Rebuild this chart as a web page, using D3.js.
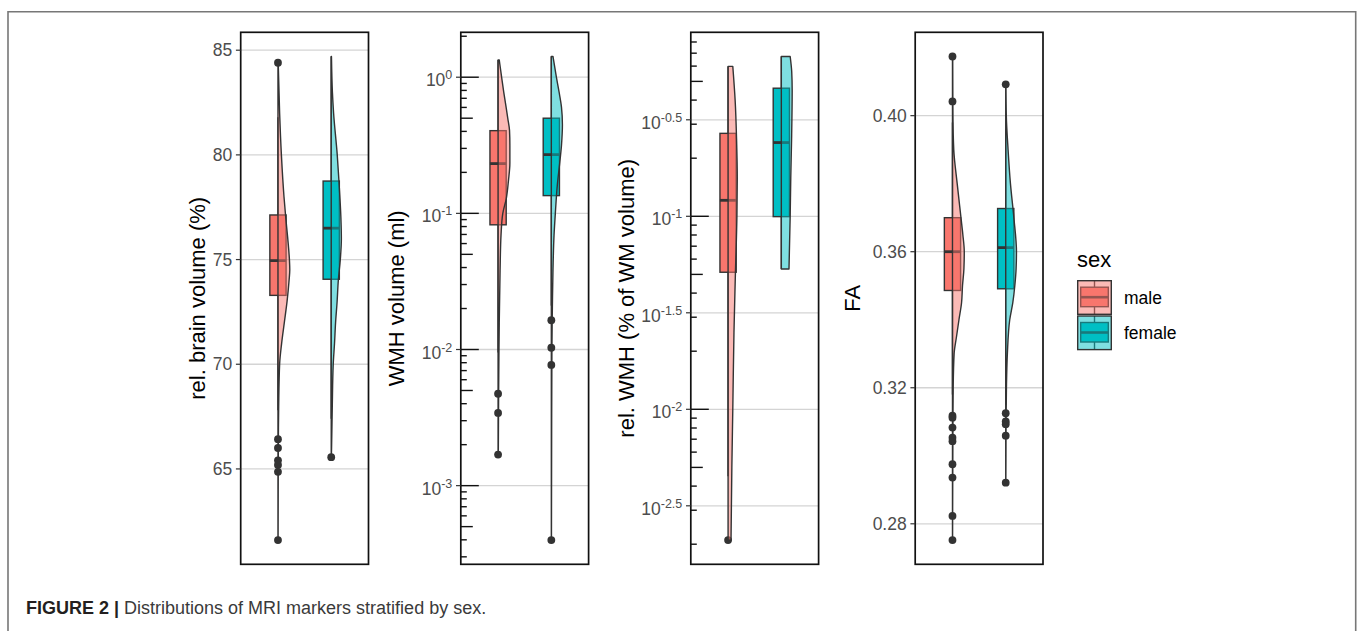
<!DOCTYPE html>
<html><head><meta charset="utf-8">
<script src="https://cdn.jsdelivr.net/npm/d3@7"></script>
<style>
body{margin:0;background:#fff;}
svg{display:block;font-family:"Liberation Sans",Arial,Helvetica,sans-serif;}
</style>
</head><body>
<svg id="chart" width="1360" height="631"></svg>
<script>
// ---------------- data ----------------
const groups = ["male", "female"];
const groupColors = ["#F8766D", "#00BFC4"];

// box stats: [lower whisker, Q1, median, Q3, upper whisker]
const brainBox = [[67.8, 73.29, 74.95, 77.13, 81.8], [67.4, 74.06, 76.5, 78.75, 84.7]];
const brainOutliers = [[84.4, 66.42, 66.0, 65.41, 65.19, 64.86, 61.6], [65.56]];
const brainDensityMale = [[61.6,0.01],[64,0.02],[66,0.03],[68,0.06],[70,0.14],[71,0.31],[72,0.54],[73,0.77],[74,0.94],[74.5,1.0],[75,0.97],[76,0.83],[77,0.66],[78,0.51],[80,0.29],[82,0.14],[84.4,0.02]];
const brainDensityFemale = [[65.56,0.01],[66,0.03],[68,0.09],[70,0.17],[71,0.28],[72,0.37],[73,0.5],[74,0.6],[75,0.77],[76,0.86],[77,0.82],[78.7,0.66],[80,0.51],[82,0.2],[83,0.1],[84.7,0.02]];
const brainTicks = [65, 70, 75, 80, 85];

const wmhBox = [[0.0095, 0.0824, 0.232, 0.405, 1.34], [0.021, 0.135, 0.270, 0.50, 1.42]];
const wmhOutliers = [[0.00473, 0.00342, 0.00169], [0.0164, 0.0103, 0.0077, 0.000398]];
const wmhDensityMale = [[0.00169,0.02],[0.005,0.05],[0.0158,0.1],[0.038,0.17],[0.0692,0.25],[0.1,0.4],[0.129,0.7],[0.174,0.88],[0.234,1.0],[0.316,1.0],[0.407,0.97],[0.501,0.82],[0.603,0.68],[0.776,0.48],[1.0,0.3],[1.34,0.1]];
const wmhDensityFemale = [[0.000398,0.01],[0.00316,0.03],[0.01,0.05],[0.0209,0.09],[0.038,0.14],[0.0692,0.23],[0.1,0.34],[0.162,0.51],[0.234,0.71],[0.316,0.86],[0.447,0.94],[0.603,0.86],[0.776,0.66],[1.0,0.43],[1.42,0.14]];
const wmhTickExponents = [-3, -2, -1, 0];

const relBox = [[0.0045, 0.0513, 0.121, 0.269, 0.598], [0.0533, 0.0996, 0.241, 0.461, 0.673]];
const relOutliers = [[0.0021], []];
const relDensityMale = [[0.0021,0.25],[0.00501,0.32],[0.01,0.4],[0.0251,0.5],[0.0501,0.62],[0.1,0.75],[0.158,0.78],[0.251,0.72],[0.398,0.6],[0.598,0.4]];
const relDensityFemale = [[0.0533,0.65],[0.1,0.75],[0.158,0.8],[0.251,0.87],[0.447,0.92],[0.562,0.88],[0.673,0.75]];
const relTickExponents = [-2.5, -2, -1.5, -1, -0.5];

const faBox = [[0.318, 0.3486, 0.360, 0.370, 0.398], [0.315, 0.3491, 0.3612, 0.3727, 0.396]];
const faOutliers = [[0.4174,0.4042,0.3118,0.3112,0.3083,0.3053,0.3043,0.2975,0.2936,0.2823,0.2752],[0.4092,0.3125,0.3101,0.3093,0.3059,0.2921]];
const faDensityMale = [[0.2752,0.01],[0.29,0.02],[0.30,0.03],[0.31,0.04],[0.32,0.06],[0.33,0.14],[0.335,0.34],[0.34,0.55],[0.345,0.77],[0.35,0.85],[0.355,0.97],[0.36,1.0],[0.365,0.88],[0.37,0.72],[0.38,0.4],[0.39,0.11],[0.40,0.04],[0.4174,0.02]];
const faDensityFemale = [[0.2921,0.01],[0.30,0.02],[0.31,0.03],[0.32,0.06],[0.33,0.14],[0.34,0.34],[0.345,0.6],[0.35,0.77],[0.355,0.88],[0.36,0.91],[0.37,0.69],[0.38,0.4],[0.39,0.2],[0.40,0.05],[0.4092,0.02]];
const faTicks = [0.28, 0.32, 0.36, 0.40];

const axisTitles = ["rel. brain volume (%)", "WMH volume (ml)", "rel. WMH (% of WM volume)", "FA"];
const legendTitle = "sex";
const captionBold = "FIGURE 2 |";
const captionText = " Distributions of MRI markers stratified by sex.";

// ---------------- layout ----------------
const svg = d3.select("#chart");
const TOP = 32.3, BOTTOM = 564.3, PW = 127.8;
const LW = 1.4;
const panels = [
  {left: 240.7, titleX: 205, log: false, box: brainBox, out: brainOutliers, dens: [brainDensityMale, brainDensityFemale], ticks: brainTicks.map(v => ({v, t: String(v)}))},
  {left: 460.8, titleX: 404, log: true, box: wmhBox, out: wmhOutliers, dens: [wmhDensityMale, wmhDensityFemale], ticks: wmhTickExponents.map(e => ({v: Math.pow(10, e), e: String(e)}))},
  {left: 690.8, titleX: 634, log: true, box: relBox, out: relOutliers, dens: [relDensityMale, relDensityFemale], ticks: relTickExponents.map(e => ({v: Math.pow(10, e), e: String(e)}))},
  {left: 915.2, titleX: 860, log: false, box: faBox, out: faOutliers, dens: [faDensityMale, faDensityFemale], ticks: faTicks.map(v => ({v, t: v.toFixed(2)}))}
];

// outer frame
svg.append("path").attr("d", "M8,660V11.8H1355.7V660")
  .attr("fill", "none").attr("stroke", "#777").attr("stroke-width", 1.6);

const wScale = d3.scaleLinear().domain([0, 1]).range([0, 11.8]);

panels.forEach((p, pi) => {
  const g = svg.append("g");
  const vals = [];
  p.dens.forEach(d => d.forEach(r => vals.push(r[0])));
  p.out.forEach(o => o.forEach(v => vals.push(v)));
  p.box.forEach(b => b.forEach(v => vals.push(v)));
  const ext = d3.extent(vals);
  let y;
  if (p.log) {
    const lo = Math.log10(ext[0]), hi = Math.log10(ext[1]), pad = (hi - lo) * 0.05;
    y = d3.scaleLog().domain([Math.pow(10, lo - pad), Math.pow(10, hi + pad)]).range([BOTTOM, TOP]);
  } else {
    const pad = (ext[1] - ext[0]) * 0.05;
    y = d3.scaleLinear().domain([ext[0] - pad, ext[1] + pad]).range([BOTTOM, TOP]);
  }
  const x = d3.scalePoint().domain(groups).range([p.left, p.left + PW]).padding(0.7);
  const bw = x.step() * 0.305;

  // grid
  g.selectAll("line.grid").data(p.ticks).join("line")
    .attr("x1", p.left).attr("x2", p.left + PW)
    .attr("y1", d => y(d.v)).attr("y2", d => y(d.v))
    .attr("stroke", "#d4d4d4").attr("stroke-width", 1.3);

  groups.forEach((grp, gi) => {
    const cx = x(grp);
    const b = p.box[gi];
    const col = groupColors[gi];
    // whiskers
    g.append("line").attr("x1", cx).attr("x2", cx).attr("y1", y(b[3])).attr("y2", y(b[4]))
      .attr("stroke", "#333").attr("stroke-width", LW);
    g.append("line").attr("x1", cx).attr("x2", cx).attr("y1", y(b[0])).attr("y2", y(b[1]))
      .attr("stroke", "#333").attr("stroke-width", LW);
    // box
    g.append("rect").attr("x", cx - bw / 2).attr("width", bw)
      .attr("y", y(b[3])).attr("height", y(b[1]) - y(b[3]))
      .attr("fill", col).attr("stroke", "#333").attr("stroke-width", LW);
    g.append("line").attr("x1", cx - bw / 2).attr("x2", cx + bw / 2)
      .attr("y1", y(b[2])).attr("y2", y(b[2]))
      .attr("stroke", "#333").attr("stroke-width", 2.8);
    // outliers
    g.selectAll(null).data(p.out[gi]).join("circle")
      .attr("cx", cx).attr("cy", d => y(d)).attr("r", 3.9).attr("fill", "#333");
  });

  // violins (half, right side)
  groups.forEach((grp, gi) => {
    const cx = x(grp);
    const area = d3.area().curve(d3.curveMonotoneY)
      .y(d => y(d[0])).x0(cx).x1(d => cx + wScale(d[1]));
    g.append("path").attr("d", area(p.dens[gi]))
      .attr("fill", groupColors[gi]).attr("fill-opacity", 0.5)
      .attr("stroke", "#333").attr("stroke-width", LW).attr("stroke-linejoin", "round");
  });

  // panel border
  g.append("rect").attr("x", p.left).attr("y", TOP).attr("width", PW).attr("height", BOTTOM - TOP)
    .attr("fill", "none").attr("stroke", "#111").attr("stroke-width", 1.7);

  // log ticks
  if (p.log) {
    const [d0, d1] = y.domain();
    const lt = [];
    for (let k = Math.floor(Math.log10(d0)); k <= Math.ceil(Math.log10(d1)); k++) {
      for (let m = 1; m <= 9; m++) {
        const v = m * Math.pow(10, k);
        if (v >= d0 && v <= d1) lt.push({v, len: m === 1 ? 18 : (m === 5 ? 12 : 6)});
      }
    }
    g.selectAll("line.lt").data(lt).join("line")
      .attr("x1", p.left).attr("x2", d => p.left + d.len)
      .attr("y1", d => y(d.v)).attr("y2", d => y(d.v))
      .attr("stroke", "#111").attr("stroke-width", 1.4);
  }

  // axis ticks
  g.selectAll("line.tk").data(p.ticks).join("line")
    .attr("x1", p.left - 4.8).attr("x2", p.left)
    .attr("y1", d => y(d.v)).attr("y2", d => y(d.v))
    .attr("stroke", "#333").attr("stroke-width", 1.2);

  // tick labels
  p.ticks.forEach(d => {
    const t = g.append("text").attr("x", p.left - 8.5).attr("text-anchor", "end")
      .attr("fill", "#4d4d4d").attr("font-size", 17.5);
    if (d.e !== undefined) {
      t.attr("y", y(d.v) + 9);
      t.append("tspan").text("10");
      t.append("tspan").attr("dy", -7).attr("font-size", 12.5).text(d.e);
    } else {
      t.attr("y", y(d.v) + 6.2).text(d.t);
    }
  });

  // axis title
  g.append("text").attr("transform", `translate(${p.titleX},${(TOP + BOTTOM) / 2}) rotate(-90)`)
    .attr("text-anchor", "middle").attr("font-size", 22).attr("fill", "#000")
    .text(axisTitles[pi]);
});

// ---------------- legend ----------------
const lg = svg.append("g");
lg.append("text").attr("x", 1077).attr("y", 267).attr("font-size", 22).attr("fill", "#000").text(legendTitle);
groups.forEach((grp, gi) => {
  const kx = 1077.7, ky = 280.7 + gi * 35.3, ks = 33.6;
  const col = groupColors[gi];
  const cx = kx + ks / 2;
  lg.append("line").attr("x1", cx).attr("x2", cx).attr("y1", ky).attr("y2", ky + 6.5).attr("stroke", "#333").attr("stroke-width", LW);
  lg.append("line").attr("x1", cx).attr("x2", cx).attr("y1", ky + 26).attr("y2", ky + ks).attr("stroke", "#333").attr("stroke-width", LW);
  lg.append("rect").attr("x", kx + 3).attr("y", ky + 6.5).attr("width", ks - 6).attr("height", 19.5)
    .attr("fill", col).attr("stroke", "#333").attr("stroke-width", LW);
  lg.append("line").attr("x1", kx + 3).attr("x2", kx + ks - 3).attr("y1", ky + 16.5).attr("y2", ky + 16.5)
    .attr("stroke", "#333").attr("stroke-width", 2.6);
  lg.append("rect").attr("x", kx).attr("y", ky).attr("width", ks).attr("height", ks)
    .attr("fill", col).attr("fill-opacity", 0.5).attr("stroke", "#333").attr("stroke-width", LW);
  lg.append("text").attr("x", 1124).attr("y", ky + ks / 2 + 6.2).attr("font-size", 17.5).attr("fill", "#000").text(grp);
});

// ---------------- caption ----------------
const cap = svg.append("text").attr("x", 26).attr("y", 614).attr("font-size", 18).attr("fill", "#231f20");
cap.append("tspan").attr("font-weight", "bold").text(captionBold);
cap.append("tspan").attr("fill", "#3a3a3a").text(captionText);
</script>
</body></html>
